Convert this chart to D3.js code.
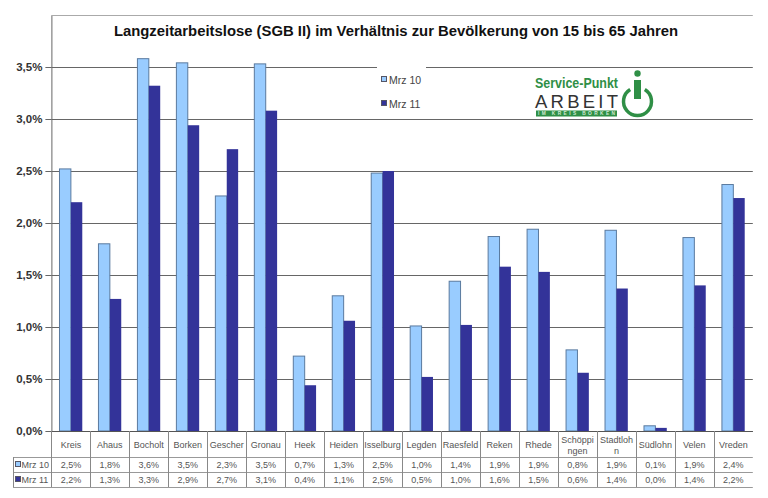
<!DOCTYPE html>
<html>
<head>
<meta charset="utf-8">
<script src="https://cdn.jsdelivr.net/npm/d3@7/dist/d3.min.js"></script>
<style>
html,body{margin:0;padding:0;background:#fff}
svg{display:block}
text{font-family:"Liberation Sans",Arial,sans-serif}
</style>
</head>
<body>
<svg id="chart" width="768" height="498"></svg>
<script>
const categories = ["Kreis","Ahaus","Bocholt","Borken","Gescher","Gronau","Heek","Heiden","Isselburg","Legden","Raesfeld","Reken","Rhede","Schöppi|ngen","Stadtloh|n","Südlohn","Velen","Vreden"];
const mrz10 = [2.52,1.80,3.58,3.54,2.26,3.53,0.72,1.30,2.48,1.01,1.44,1.87,1.94,0.78,1.93,0.05,1.86,2.37];
const mrz11 = [2.20,1.27,3.32,2.94,2.71,3.08,0.44,1.06,2.50,0.52,1.02,1.58,1.53,0.56,1.37,0.03,1.40,2.24];
const seriesNames = ["Mrz 10","Mrz 11"];
const seriesFill = ["#99ccff","#333399"];
const tickValues = [0,0.5,1,1.5,2,2.5,3,3.5];
const titleText = "Langzeitarbeitslose (SGB II) im Verhältnis zur Bevölkerung von 15 bis 65 Jahren";

const plot = {left:51.4, right:752.8, top:15, bottom:431};
const rows = [431,457,472,487];
const legendLeft = 13;
const svg = d3.select("#chart");
const comma = v => d3.format(".1f")(v).replace(".", ",") + "%";

const x = d3.scaleBand().domain(d3.range(categories.length)).range([plot.left, plot.right]);
const y = d3.scaleLinear().domain([0,4]).range([plot.bottom, plot.top]);
const inner = d3.scaleBand().domain([0,1]).range([0, x.bandwidth()]).paddingOuter(0.71).paddingInner(0);

// Horizontal gridlines plus the frame line at the top of the value range
const yAxis = d3.axisLeft(y).tickValues(tickValues).tickFormat(comma)
  .tickSize(-(plot.right-plot.left)).tickSizeOuter(0).tickPadding(9);
const gy = svg.append("g").attr("transform",`translate(${plot.left},0)`).call(yAxis);
gy.select(".domain").attr("stroke","#666");
gy.selectAll(".tick line").attr("stroke","#666").attr("stroke-width",1);
gy.selectAll(".tick text").attr("font-size",11.5).attr("font-weight","bold").attr("fill","#333");
gy.selectAll(".tick").append("line").attr("x1",-6).attr("x2",0).attr("stroke","#666");
svg.append("line").attr("x1",plot.left).attr("x2",plot.right).attr("y1",y(4)+.5).attr("y2",y(4)+.5).attr("stroke","#aaa");

// Paired bars per municipality
[mrz10,mrz11].forEach((vals,s)=>{
  svg.append("g").selectAll("rect").data(vals).join("rect")
    .attr("x",(d,i)=>x(i)+inner(s))
    .attr("y",d=>y(d))
    .attr("width",inner.bandwidth())
    .attr("height",d=>y(0)-y(d))
    .attr("fill",seriesFill[s])
    .attr("stroke","#5a7a9f")
    .attr("stroke-width",s?0:1);
});

// Data table below the axis
const table = svg.append("g").attr("stroke","#888").attr("fill","none");
rows.forEach((r,i)=>{
  table.append("line").attr("x1",i?legendLeft:plot.left).attr("x2",plot.right)
    .attr("y1",r+.5).attr("y2",r+.5).attr("stroke",i?"#999":"#555");
});
d3.range(categories.length).forEach(i=>{
  const cx = Math.round(x(i));
  table.append("line").attr("x1",cx+.5).attr("x2",cx+.5).attr("y1",rows[0]).attr("y2",rows[3]);
});
table.append("line").attr("x1",legendLeft+.5).attr("x2",legendLeft+.5).attr("y1",rows[1]).attr("y2",rows[3]);

const labelColor = "#555";
const labels = svg.append("g").attr("text-anchor","middle").attr("font-size",9).attr("fill",labelColor);
categories.forEach((c,i)=>{
  const parts = c.split("|");
  const cx = x(i)+x.bandwidth()/2;
  const t = labels.append("text").attr("x",cx);
  if(parts.length===1){
    t.attr("y",448).text(parts[0]);
  } else {
    t.attr("y",443).text(parts[0]);
    labels.append("text").attr("x",cx).attr("y",454).text(parts[1]);
  }
});
[mrz10,mrz11].forEach((vals,s)=>{
  vals.forEach((v,i)=>{
    labels.append("text").attr("x",x(i)+x.bandwidth()/2).attr("y",rows[s+1]+11).text(comma(v));
  });
  svg.append("rect").attr("x",15.5).attr("y",rows[s+1]+4.5).attr("width",5).attr("height",5)
    .attr("fill",seriesFill[s]).attr("stroke","#556");
  svg.append("text").attr("x",21.5).attr("y",rows[s+1]+11).attr("font-size",9).attr("fill",labelColor).text(seriesNames[s]);
});

// Title
svg.append("text").attr("x",396).attr("y",36).attr("text-anchor","middle")
  .attr("font-size",14.85).attr("font-weight","bold").attr("fill","#111").text(titleText);

// Legend on a white patch that interrupts the top gridline
svg.append("rect").attr("x",377).attr("y",60).attr("width",49).attr("height",58).attr("fill","#fff");
seriesNames.forEach((n,s)=>{
  const ly = s?104:80;
  svg.append("rect").attr("x",381.5).attr("y",ly-3.5).attr("width",5).attr("height",5)
    .attr("fill",seriesFill[s]).attr("stroke","#556");
  svg.append("text").attr("x",389).attr("y",ly+4).attr("font-size",10.5).attr("fill","#444").text(n);
});

// Service-Punkt Arbeit logo
const green = "#2f8f46";
const logo = svg.append("g");
logo.append("text").attr("x",535).attr("y",88).attr("font-size",15).attr("font-weight","bold")
  .attr("fill",green).attr("textLength",83).attr("lengthAdjust","spacingAndGlyphs").text("Service-Punkt");
logo.append("text").attr("x",535).attr("y",108).attr("font-size",18.5)
  .attr("fill","#333").attr("textLength",83).attr("lengthAdjust","spacing").text("ARBEIT");
logo.append("rect").attr("x",536).attr("y",110.5).attr("width",81).attr("height",6).attr("fill",green);
logo.append("text").attr("x",538).attr("y",115.3).attr("font-size",4.8).attr("font-weight","bold")
  .attr("fill","#cfe8d4").attr("textLength",77).attr("lengthAdjust","spacing").text("IM KREIS BORKEN");
logo.append("path").attr("fill","none").attr("stroke",green).attr("stroke-width",3.5)
  .attr("d",d3.arc()({innerRadius:14,outerRadius:14,startAngle:0.55,endAngle:2*Math.PI-0.55}))
  .attr("transform","translate(637.5,101.5)");
logo.append("rect").attr("x",634).attr("y",80).attr("width",7).attr("height",19).attr("fill",green);
logo.append("circle").attr("cx",637.5).attr("cy",73.5).attr("r",3.2).attr("fill",green);
</script>
</body>
</html>
